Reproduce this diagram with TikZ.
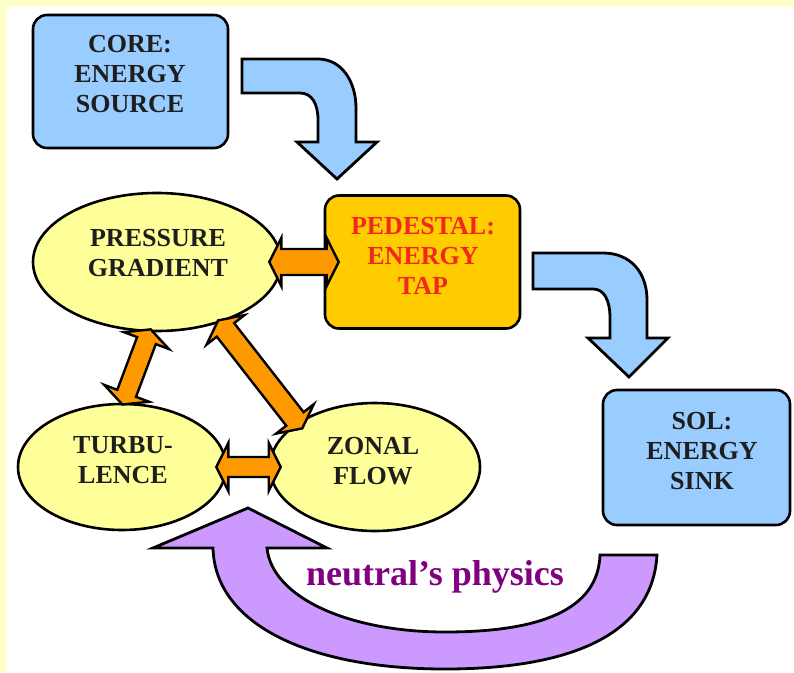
\documentclass[tikz,border=0pt]{standalone}
\usepackage{fontspec}
\setmainfont{Liberation Serif}
\usetikzlibrary{shapes.geometric,calc}
\definecolor{bandyellow}{RGB}{255,255,204}
\definecolor{boxblue}{RGB}{153,204,255}
\definecolor{tapgold}{RGB}{255,204,0}
\definecolor{ellyellow}{RGB}{255,255,153}
\definecolor{fatorange}{RGB}{255,153,0}
\definecolor{lilac}{RGB}{204,153,255}
\definecolor{tapred}{RGB}{240,40,30}
\definecolor{neutpurple}{RGB}{128,0,128}
\definecolor{inkdark}{RGB}{30,30,30}
\tikzset{
  roundbox/.style={draw=black, line width=2.6pt, rounded corners=14pt, inner sep=0pt},
  bluebox/.style={roundbox, fill=boxblue},
  goldbox/.style={roundbox, fill=tapgold},
  oval/.style={ellipse, draw=black, line width=2.6pt, fill=ellyellow, inner sep=0pt},
  lbl/.style={font=\fontsize{26}{30}\selectfont\bfseries, align=center, text=inkdark, inner sep=0pt},
  fatarrow/.style={draw=black, line width=2.4pt, fill=fatorange, line join=miter},
  bentarrow/.style={draw=black, line width=2.8pt, fill=boxblue, line join=miter},
  looparrow/.style={draw=black, line width=2.8pt, fill=lilac, line join=miter},
}
% double fat arrow: from, to, extension at start, extension at end, shaft half width
\newcommand\fatlink[5]{%
  \path let \p1=(#1), \p2=(#2) in \pgfextra{%
    \pgfmathsetmacro\fatang{atan2(\y2-\y1,\x2-\x1)}%
    \pgfmathsetmacro\fatlen{veclen(\x2-\x1,\y2-\y1)}%
    \global\let\fatA\fatang \global\let\fatL\fatlen};
  \draw[fatarrow, shift={(#1)}, rotate=\fatA]
    (-#3,0) -- ({-#3+12},24) -- ({-#3+12},#5) -- ({\fatL+#4-12},#5)
    -- ({\fatL+#4-12},24) -- ({\fatL+#4},0) -- ({\fatL+#4-12},-24)
    -- ({\fatL+#4-12},-#5) -- ({-#3+12},-#5) -- ({-#3+12},-24) -- cycle;
}
\begin{document}
\begin{tikzpicture}[x=1pt,y=-1pt]
\useasboundingbox (0,0) rectangle (794,672);
\fill[bandyellow] (0,0) rectangle (794,672);
\fill[white] (7,7) rectangle (794,672);

% boxes
\node[bluebox, minimum width=195pt, minimum height=133pt] (core) at (130.5,81.5) {};
\node[goldbox, minimum width=195pt, minimum height=133pt] (ped) at (422.5,262) {};
\node[bluebox, minimum width=187pt, minimum height=135pt] (sol) at (696.5,457.5) {};

% ellipses
\node[oval, minimum width=248pt, minimum height=138pt] (pg) at (157,262) {};
\node[oval, minimum width=208pt, minimum height=126pt] (turb) at (122,467) {};
\node[oval, minimum width=210pt, minimum height=128pt] (zf) at (375,467) {};

% labels
\node[lbl] (coretxt) at (130,74) {CORE:\\ENERGY\\SOURCE};
\node[lbl, text=tapred] (pedtxt) at (423,256) {PEDESTAL:\\ENERGY\\TAP};
\node[lbl] (soltxt) at (702,451) {SOL:\\ENERGY\\SINK};
\node[lbl] (pgtxt) at (158,253) {PRESSURE\\GRADIENT};
\node[lbl] (turbtxt) at (123,460.5) {TURBU-\\LENCE};
\node[lbl] (zftxt) at (373,461) {ZONAL\\FLOW};

% orange double arrows
\fatlink{pg.east}{ped.west}{13}{15}{13}
\fatlink{pg.-96}{turb.89}{3}{2}{10}
\fatlink{pg.-44}{zf.150}{3}{8}{11}
\fatlink{turb.east}{zf.west}{11}{12}{10}

% blue bent arrows
\draw[bentarrow] (242,59) -- (318,59) .. controls (342,59) and (356,82) .. (356,108)
  -- (356,142) -- (377,142) -- (337,179) -- (297,142) -- (318,142) -- (318,120)
  .. controls (318,104) and (312,93) .. (300,93) -- (242,93) -- cycle;
\draw[bentarrow] (533,253) -- (603,253) .. controls (630,253) and (647,272) .. (647,300)
  -- (647,338) -- (668,338) -- (629,377) -- (588,338) -- (610,338) -- (610,318)
  .. controls (610,300) and (604,289) .. (593,289) -- (533,289) -- cycle;

% purple return arrow
\draw[looparrow] (600,555) -- (657,555) .. controls (652,640) and (560,669) .. (445,669)
  .. controls (310,669) and (215,625) .. (213,548) -- (153,548) -- (248,508) -- (327,548)
  -- (267,548) .. controls (272,598) and (350,632) .. (445,632)
  .. controls (540,632) and (598,610) .. (600,555) -- cycle;
\node[font=\fontsize{36}{40}\selectfont\bfseries, text=neutpurple, anchor=base, inner sep=0pt] (neut) at (435,585) {neutral’s physics};
\end{tikzpicture}
\end{document}
